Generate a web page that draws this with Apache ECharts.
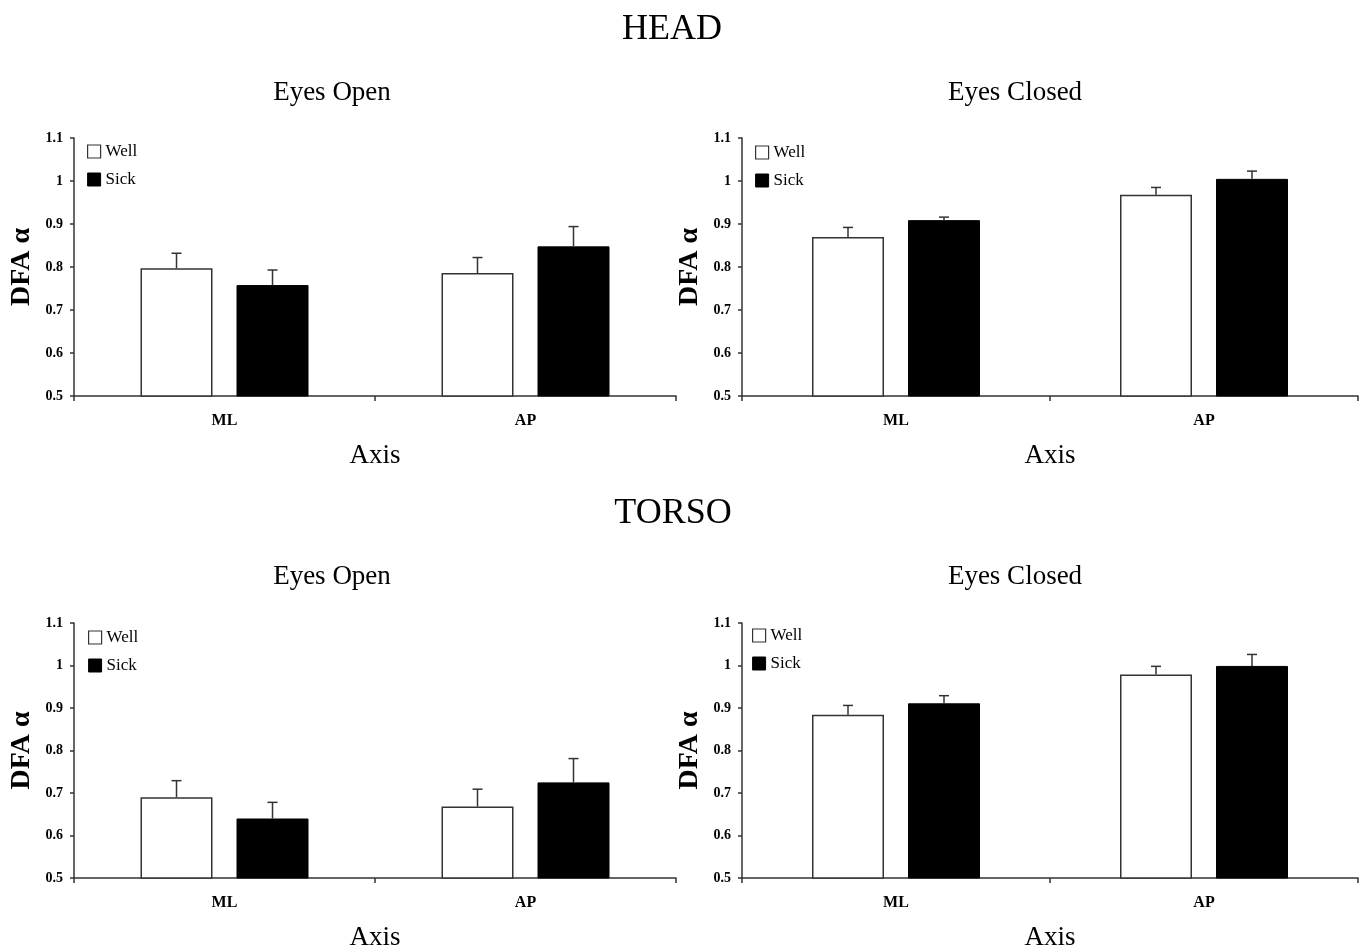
<!DOCTYPE html>
<html>
<head>
<meta charset="utf-8">
<title>DFA alpha - head and torso</title>
<script src="https://cdn.jsdelivr.net/npm/echarts@6/dist/echarts.min.js"></script>
<style>
  html, body { margin: 0; padding: 0; background: #fff; }
  #chart { width: 1361px; height: 952px; }
</style>
</head>
<body>
<div id="chart"></div>
<script>
// categories and values
var categories = ['ML', 'AP'];
var yMin = 0.5, yMax = 1.1, yStep = 0.1;

var headOpenWell = [0.797, 0.786];
var headOpenWellSE = [0.035, 0.036];
var headOpenSick = [0.758, 0.848];
var headOpenSickSE = [0.035, 0.046];

var headClosedWell = [0.870, 0.968];
var headClosedWellSE = [0.022, 0.017];
var headClosedSick = [0.909, 1.005];
var headClosedSickSE = [0.007, 0.018];

var torsoOpenWell = [0.690, 0.668];
var torsoOpenWellSE = [0.039, 0.041];
var torsoOpenSick = [0.640, 0.725];
var torsoOpenSickSE = [0.038, 0.056];

var torsoClosedWell = [0.884, 0.979];
var torsoClosedWellSE = [0.022, 0.019];
var torsoClosedSick = [0.911, 0.999];
var torsoClosedSickSE = [0.018, 0.027];

var panels = [
  { well: headOpenWell, wellSE: headOpenWellSE, sick: headOpenSick, sickSE: headOpenSickSE },
  { well: headClosedWell, wellSE: headClosedWellSE, sick: headClosedSick, sickSE: headClosedSickSE },
  { well: torsoOpenWell, wellSE: torsoOpenWellSE, sick: torsoOpenSick, sickSE: torsoOpenSickSE },
  { well: torsoClosedWell, wellSE: torsoClosedWellSE, sick: torsoClosedSick, sickSE: torsoClosedSickSE }
];

// layout
var SERIF = '"Liberation Serif", "DejaVu Serif", serif';
var LINE = '#333';
var BAR_W = 72;
var BAR_GAP = 24;
var grids = [
  { left: 74, top: 138, width: 602, height: 258 },
  { left: 742, top: 138, width: 616, height: 258 },
  { left: 74, top: 623, width: 602, height: 258 },
  { left: 742, top: 623, width: 616, height: 258 }
];
var legendPos = [
  { left: 87, top: 143 },
  { left: 755, top: 144 },
  { left: 88, top: 629 },
  { left: 752, top: 627 }
];

var chart = echarts.init(document.getElementById('chart'));

var xAxes = [], yAxes = [], series = [], legends = [];

grids.forEach(function (g, i) {
  xAxes.push({
    type: 'category',
    gridIndex: i,
    data: categories,
    name: 'Axis',
    nameLocation: 'middle',
    nameGap: 46,
    nameTextStyle: { fontFamily: SERIF, fontSize: 27, color: '#000' },
    axisLine: { lineStyle: { color: LINE, width: 1.5 } },
    axisTick: { show: true, length: 5, lineStyle: { color: LINE, width: 1.5 } },
    axisLabel: { margin: 17, fontFamily: SERIF, fontSize: 16, fontWeight: 'bold', color: '#000' }
  });
  yAxes.push({
    type: 'value',
    gridIndex: i,
    min: yMin,
    max: yMax,
    interval: yStep,
    name: 'DFA α',
    nameLocation: 'middle',
    nameGap: 38,
    nameRotate: 90,
    nameTextStyle: { fontFamily: SERIF, fontSize: 28, fontWeight: 'bold', color: '#000' },
    splitLine: { show: false },
    axisLine: { show: true, lineStyle: { color: LINE, width: 1.5 } },
    axisTick: { show: true, length: 4, lineStyle: { color: LINE, width: 1.5 } },
    axisLabel: {
      margin: 11, fontFamily: SERIF, fontSize: 14, fontWeight: 'bold', color: '#000',
      formatter: function (v) { return String(Math.round(v * 10) / 10); }
    }
  });

  var p = panels[i];
  series.push({
    name: 'Well',
    type: 'bar',
    xAxisIndex: i,
    yAxisIndex: i,
    barWidth: BAR_W,
    barGap: (BAR_GAP / BAR_W * 100) + '%',
    data: p.well,
    itemStyle: { color: '#fff', borderColor: '#333', borderWidth: 1.5 }
  });
  series.push({
    name: 'Sick',
    type: 'bar',
    xAxisIndex: i,
    yAxisIndex: i,
    barWidth: BAR_W,
    barGap: (BAR_GAP / BAR_W * 100) + '%',
    data: p.sick,
    itemStyle: { color: '#000', borderColor: '#000', borderWidth: 1 }
  });

  // error bars: [category, mean, mean + SE, group (0 well, 1 sick)]
  var errData = [];
  categories.forEach(function (c, k) {
    errData.push([k, p.well[k], p.well[k] + p.wellSE[k], 0]);
    errData.push([k, p.sick[k], p.sick[k] + p.sickSE[k], 1]);
  });
  series.push({
    type: 'custom',
    xAxisIndex: i,
    yAxisIndex: i,
    z: 5,
    silent: true,
    encode: { x: 0, y: [1, 2] },
    data: errData,
    renderItem: function (params, api) {
      var off = (api.value(3) === 0 ? -1 : 1) * (BAR_W + BAR_GAP) / 2;
      var lo = api.coord([api.value(0), api.value(1)]);
      var hi = api.coord([api.value(0), api.value(2)]);
      var x = lo[0] + off;
      var style = { stroke: '#333', lineWidth: 1.5 };
      return {
        type: 'group',
        children: [
          { type: 'line', shape: { x1: x, y1: lo[1], x2: x, y2: hi[1] }, style: style },
          { type: 'line', shape: { x1: x - 5, y1: hi[1], x2: x + 5, y2: hi[1] }, style: style }
        ]
      };
    }
  });

  legends.push({
    left: legendPos[i].left,
    top: legendPos[i].top,
    orient: 'vertical',
    itemWidth: 13,
    itemHeight: 13,
    itemGap: 11,
    padding: 0,
    selectedMode: false,
    textStyle: { fontFamily: SERIF, fontSize: 17, color: '#000', padding: [0, 0, 0, 0] },
    data: [
      { name: 'Well', icon: 'rect', itemStyle: { color: '#fff', borderColor: '#333', borderWidth: 1.2 } },
      { name: 'Sick', icon: 'rect', itemStyle: { color: '#000', borderColor: '#000', borderWidth: 1 } }
    ]
  });
});

function label(text, x, y, size) {
  return {
    type: 'text',
    x: x,
    y: y,
    style: {
      text: text,
      font: size + 'px ' + SERIF,
      fill: '#000',
      align: 'center',
      verticalAlign: 'middle',
      textAlign: 'center',
      textVerticalAlign: 'middle'
    }
  };
}

var option = {
  backgroundColor: '#fff',
  animation: false,
  grid: grids,
  xAxis: xAxes,
  yAxis: yAxes,
  legend: legends,
  series: series,
  graphic: [
    label('HEAD', 672, 30, 36),
    label('TORSO', 673, 514, 36),
    label('Eyes Open', 332, 93, 27),
    label('Eyes Closed', 1015, 93, 27),
    label('Eyes Open', 332, 577, 27),
    label('Eyes Closed', 1015, 577, 27)
  ]
};

chart.setOption(option);
</script>
</body>
</html>
